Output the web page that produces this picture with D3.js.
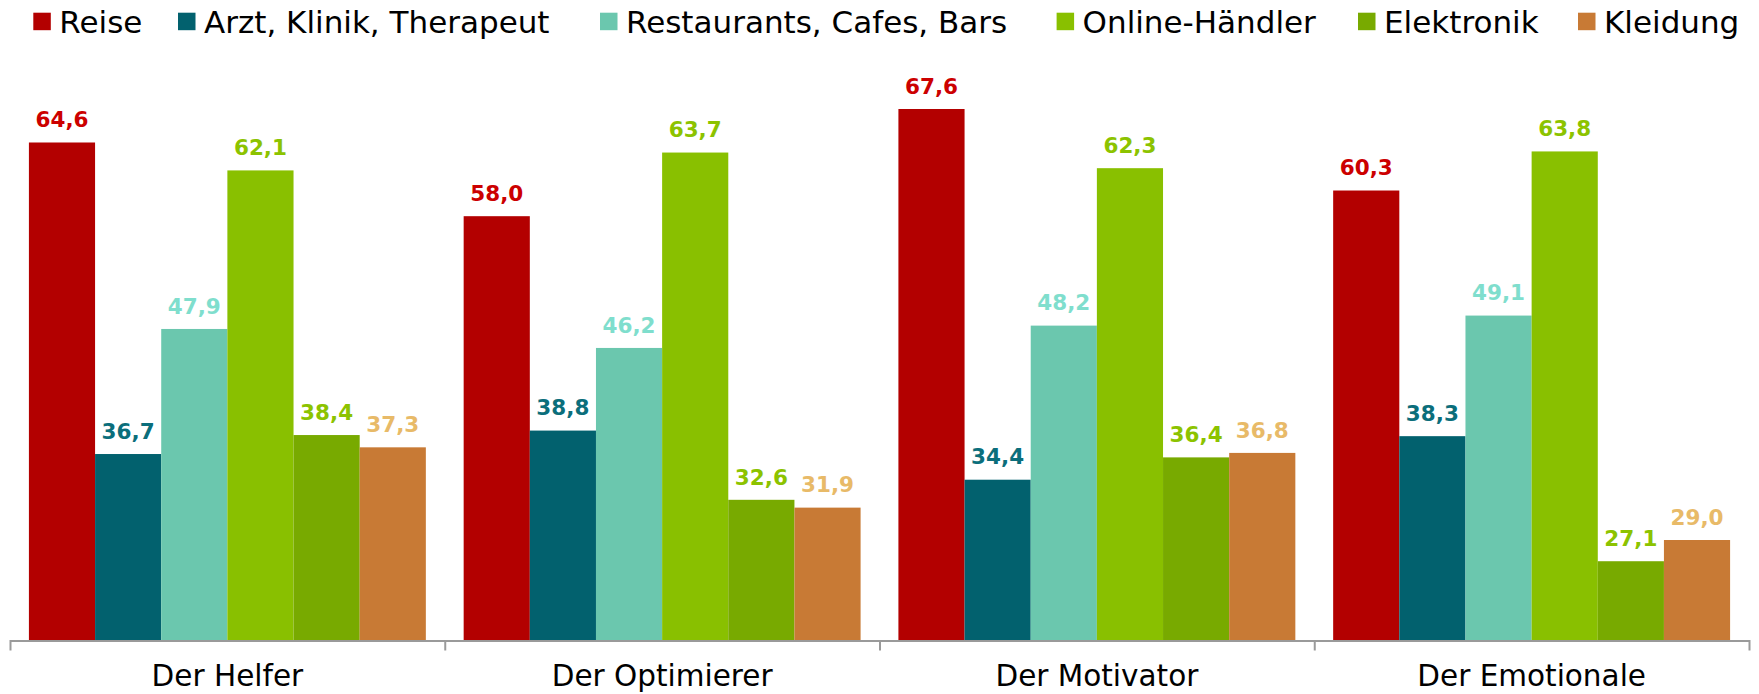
<!DOCTYPE html>
<html>
<head>
<meta charset="utf-8">
<script src="https://cdn.jsdelivr.net/npm/d3@7"></script>
<style>
  body { margin: 0; background: #fff; }
  svg { display: block; font-family: "DejaVu Sans", Verdana, sans-serif; }
</style>
</head>
<body>
<div class="chart"></div>
<script>
// Data
const categories = ["Der Helfer", "Der Optimierer", "Der Motivator", "Der Emotionale"];
const seriesNames = ["Reise", "Arzt, Klinik, Therapeut", "Restaurants, Cafes, Bars", "Online-Händler", "Elektronik", "Kleidung"];
const reise = [64.6, 58.0, 67.6, 60.3];
const arzt = [36.7, 38.8, 34.4, 38.3];
const restaurants = [47.9, 46.2, 48.2, 49.1];
const online = [62.1, 63.7, 62.3, 63.8];
const elektronik = [38.4, 32.6, 36.4, 27.1];
const kleidung = [37.3, 31.9, 36.8, 29.0];

const barColors = ["#b30000", "#02616e", "#6bc7ae", "#89c000", "#78aa00", "#c87a35"];
const labelColors = ["#cc0000", "#0b6e7b", "#7fdecd", "#8cc300", "#8cc300", "#e8ba68"];

// legend layout (left edge of each swatch)
const legendX = [33.3, 178, 600, 1056.6, 1358, 1578];

const seriesValues = [reise, arzt, restaurants, online, elektronik, kleidung];
const data = categories.map((c, i) => ({
    category: c,
    values: seriesNames.map((s, j) => ({ series: s, idx: j, value: seriesValues[j][i] }))
}));

const width = 1759, height = 694;
const left = 10, right = 1749, baseline = 640.5;

const de = d3.formatLocale({ decimal: ",", thousands: ".", grouping: [3], currency: ["", " €"] });
const fmt = de.format(".1f");

const svg = d3.select(".chart")
    .append("svg")
    .attr("width", width)
    .attr("height", height);

// Scales
const x0 = d3.scaleBand()
    .domain(categories)
    .range([left, right])
    .paddingInner(0.087)
    .paddingOuter(0.0435);

const x1 = d3.scaleBand()
    .domain(seriesNames)
    .range([0, x0.bandwidth()]);

const y = d3.scaleLinear()
    .domain([20, 70])
    .range([baseline, 82.2]);

const color = d3.scaleOrdinal(seriesNames, barColors);
const labelColor = d3.scaleOrdinal(seriesNames, labelColors);

// Bars
const group = svg.selectAll(".group")
    .data(data)
    .enter().append("g")
    .attr("class", "group")
    .attr("transform", d => "translate(" + x0(d.category) + ",0)");

group.selectAll("rect")
    .data(d => d.values)
    .enter().append("rect")
    .attr("x", d => x1(d.series))
    .attr("y", d => y(d.value))
    .attr("width", x1.bandwidth())
    .attr("height", d => baseline - y(d.value))
    .attr("fill", d => color(d.series));

// Value labels
group.selectAll(".val")
    .data(d => d.values)
    .enter().append("text")
    .attr("class", "val")
    .attr("x", d => x1(d.series) + x1.bandwidth() / 2)
    .attr("y", d => y(d.value) - 15.3)
    .attr("text-anchor", "middle")
    .attr("font-size", 21.5)
    .attr("font-weight", "bold")
    .attr("fill", d => labelColor(d.series))
    .text(d => fmt(d.value));

// Axis line with group separator ticks
const sep = d3.scaleLinear().domain([0, categories.length]).range([left, right]);
const sepAxis = svg.append("g")
    .attr("transform", "translate(0," + baseline + ")")
    .call(d3.axisBottom(sep).tickValues([1, 2, 3]).tickSize(10).tickSizeOuter(10).tickFormat(""));
sepAxis.selectAll("path, line").attr("stroke", "#9a9a9a").attr("stroke-width", 2);

// Category labels
const catAxis = svg.append("g")
    .attr("transform", "translate(0," + baseline + ")")
    .call(d3.axisBottom(x0).tickSize(0).tickPadding(25));
catAxis.select(".domain").remove();
catAxis.selectAll("text")
    .attr("font-family", "DejaVu Sans, Verdana, sans-serif")
    .attr("font-size", 29.5)
    .attr("fill", "#000");

// Legend
const legend = svg.append("g").attr("class", "legend");
seriesNames.forEach((s, i) => {
    legend.append("rect")
        .attr("x", legendX[i])
        .attr("y", 12.7)
        .attr("width", 17.5)
        .attr("height", 17.5)
        .attr("fill", color(s));
    legend.append("text")
        .attr("x", legendX[i] + 26)
        .attr("y", 33.3)
        .attr("font-size", 31)
        .attr("fill", "#000")
        .text(s);
});
</script>
</body>
</html>
